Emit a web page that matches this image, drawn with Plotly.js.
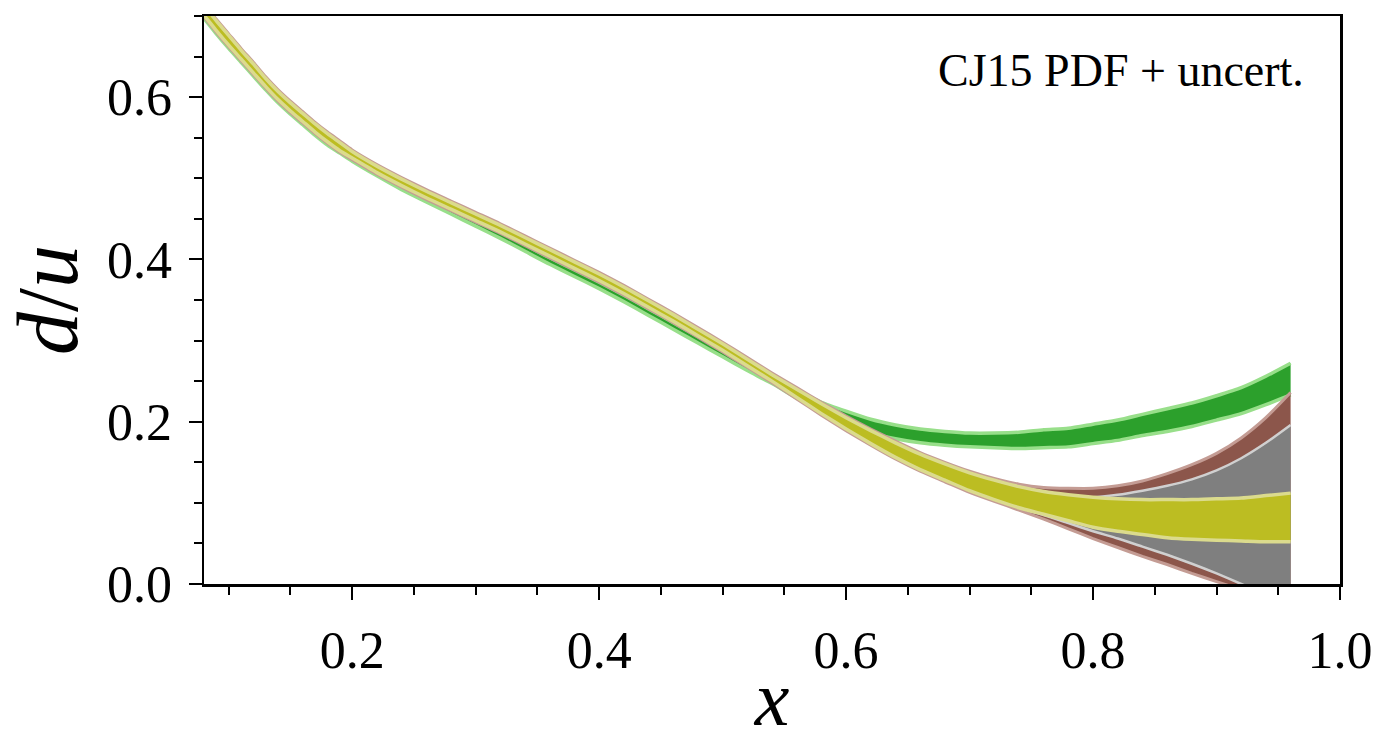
<!DOCTYPE html>
<html>
<head>
<meta charset="utf-8">
<script src="https://cdn.plot.ly/plotly-3.0.1.min.js"></script>
<style>html,body{margin:0;padding:0;background:#fff}#chart{width:1375px;height:742px}</style>
</head>
<body>
<div id="chart"></div>
<script>
// x grid of the curves
const xGrid = [0.07,0.08,0.09,0.10,0.11,0.12,0.13,0.14,0.15,0.16,0.17,0.18,0.19,0.20,0.22,0.24,0.26,0.28,0.30,0.32,0.34,0.36,0.38,0.40,0.42,0.44,0.46,0.48,0.50,0.52,0.54,0.56,0.58,0.60,0.62,0.64,0.66,0.68,0.70,0.72,0.74,0.76,0.78,0.80,0.82,0.84,0.86,0.88,0.90,0.92,0.94,0.96];

// green band
const greenHi = [0.727,0.709,0.690,0.672,0.654,0.636,0.619,0.603,0.589,0.576,0.563,0.551,0.539,0.529,0.511,0.494,0.479,0.464,0.449,0.434,0.418,0.402,0.387,0.372,0.356,0.339,0.322,0.305,0.288,0.271,0.255,0.239,0.224,0.213,0.203,0.196,0.191,0.188,0.186,0.186,0.187,0.190,0.192,0.197,0.202,0.209,0.216,0.223,0.232,0.242,0.256,0.272];
const greenLo = [0.715,0.697,0.678,0.660,0.643,0.626,0.609,0.593,0.579,0.566,0.553,0.541,0.531,0.521,0.503,0.486,0.471,0.456,0.441,0.426,0.410,0.394,0.379,0.364,0.348,0.331,0.314,0.297,0.280,0.263,0.247,0.229,0.212,0.197,0.186,0.179,0.174,0.171,0.169,0.168,0.167,0.168,0.169,0.173,0.177,0.183,0.188,0.194,0.202,0.210,0.221,0.233];

// brown band
const brownHi = [0.733,0.715,0.696,0.678,0.660,0.643,0.625,0.609,0.595,0.582,0.569,0.557,0.546,0.535,0.517,0.501,0.486,0.472,0.458,0.444,0.429,0.414,0.399,0.384,0.368,0.351,0.334,0.316,0.298,0.279,0.260,0.242,0.224,0.207,0.191,0.176,0.162,0.150,0.139,0.130,0.123,0.119,0.118,0.118,0.121,0.127,0.136,0.147,0.161,0.180,0.205,0.236];
const brownLo = [0.717,0.699,0.680,0.662,0.645,0.628,0.611,0.595,0.581,0.568,0.555,0.543,0.532,0.523,0.505,0.489,0.474,0.460,0.446,0.432,0.417,0.402,0.387,0.372,0.356,0.339,0.322,0.304,0.286,0.267,0.248,0.228,0.208,0.189,0.171,0.154,0.139,0.126,0.113,0.102,0.091,0.080,0.068,0.056,0.045,0.034,0.024,0.013,0.003,-0.007,-0.017,-0.027];

// gray band (only emerges at large x)
const xGray = [0.74,0.76,0.78,0.80,0.82,0.84,0.86,0.88,0.90,0.92,0.94,0.96];
const grayHi = [0.120,0.114,0.109,0.107,0.110,0.115,0.121,0.129,0.140,0.155,0.174,0.196];
const grayLo = [0.094,0.085,0.075,0.065,0.056,0.046,0.036,0.025,0.013,0.000,-0.013,-0.027];

// olive band
const oliveHi = [0.731,0.713,0.694,0.676,0.658,0.641,0.623,0.607,0.593,0.580,0.567,0.555,0.544,0.533,0.515,0.499,0.484,0.470,0.456,0.442,0.427,0.412,0.397,0.382,0.366,0.349,0.332,0.314,0.296,0.277,0.258,0.240,0.222,0.205,0.189,0.174,0.160,0.148,0.137,0.128,0.120,0.114,0.110,0.107,0.105,0.104,0.104,0.104,0.105,0.106,0.109,0.112];
const oliveLo = [0.719,0.701,0.682,0.664,0.647,0.630,0.613,0.597,0.583,0.570,0.557,0.545,0.534,0.525,0.507,0.491,0.476,0.462,0.448,0.434,0.419,0.404,0.389,0.374,0.358,0.341,0.324,0.306,0.288,0.269,0.250,0.230,0.210,0.191,0.173,0.156,0.141,0.128,0.115,0.104,0.094,0.086,0.078,0.070,0.065,0.061,0.057,0.055,0.054,0.053,0.052,0.052];

const xTickVals = [0.2,0.4,0.6,0.8,1.0];
const xTickText = ['0.2','0.4','0.6','0.8','1.0'];
const yTickVals = [0.0,0.2,0.4,0.6];
const yTickText = ['0.0','0.2','0.4','0.6'];

function band(x, lo, hi, fillColor, edgeColor, w) {
  const line = {color: edgeColor, width: w, shape: 'spline', smoothing: 0.6};
  return [
    {x: x, y: lo, type: 'scatter', mode: 'lines', line: line, hoverinfo: 'skip'},
    {x: x, y: hi, type: 'scatter', mode: 'lines', line: line, fill: 'tonexty', fillcolor: fillColor, hoverinfo: 'skip'}
  ];
}

const data = [].concat(
  band(xGrid, greenLo, greenHi, '#2ca02c', '#98df8a', 3.5),
  band(xGrid, brownLo, brownHi, '#8c564b', '#c49c94', 3),
  band(xGray, grayLo, grayHi, '#7f7f7f', '#d0d0d0', 2.5),
  band(xGrid, oliveLo, oliveHi, '#bcbd22', '#dbdb8d', 3.5)
);

const axisCommon = {
  showgrid: false, zeroline: false, showline: true, mirror: true,
  linecolor: '#000', linewidth: 2.5,
  ticks: 'outside', ticklen: 13, tickwidth: 2, tickcolor: '#000',
  tickfont: {family: 'Liberation Serif, serif', size: 52, color: '#000'},
  minor: {ticks: 'outside', ticklen: 8, tickwidth: 2, tickcolor: '#000', tick0: 0, dtick: 0.05}
};

const layout = {
  width: 1375, height: 742,
  margin: {l: 204, r: 35, t: 16, b: 158},
  paper_bgcolor: '#fff', plot_bgcolor: '#fff',
  showlegend: false,
  font: {family: 'Liberation Serif, serif', color: '#000'},
  xaxis: Object.assign({}, axisCommon, {
    range: [0.08, 1.0], tickmode: 'array', tickvals: xTickVals, ticktext: xTickText,
    ticklabelstandoff: 6,
    title: {text: '<i>x</i>', font: {family: 'Liberation Serif, serif', size: 78, color: '#000'}, standoff: 22}
  }),
  yaxis: Object.assign({}, axisCommon, {
    range: [0, 0.7], tickmode: 'array', tickvals: yTickVals, ticktext: yTickText,
    ticklabelstandoff: 6,
    title: {text: '<i>d</i>/<i>u</i>', font: {family: 'Liberation Serif, serif', size: 86, color: '#000'}, standoff: 22}
  }),
  annotations: [{
    xref: 'paper', yref: 'paper', x: 1, y: 1, xanchor: 'right', yanchor: 'top',
    xshift: -34, yshift: -27, showarrow: false,
    text: 'CJ15 PDF + uncert.',
    font: {family: 'Liberation Serif, serif', size: 46, color: '#000'}
  }]
};

Plotly.newPlot('chart', data, layout, {displayModeBar: false, staticPlot: true});
</script>
</body>
</html>
